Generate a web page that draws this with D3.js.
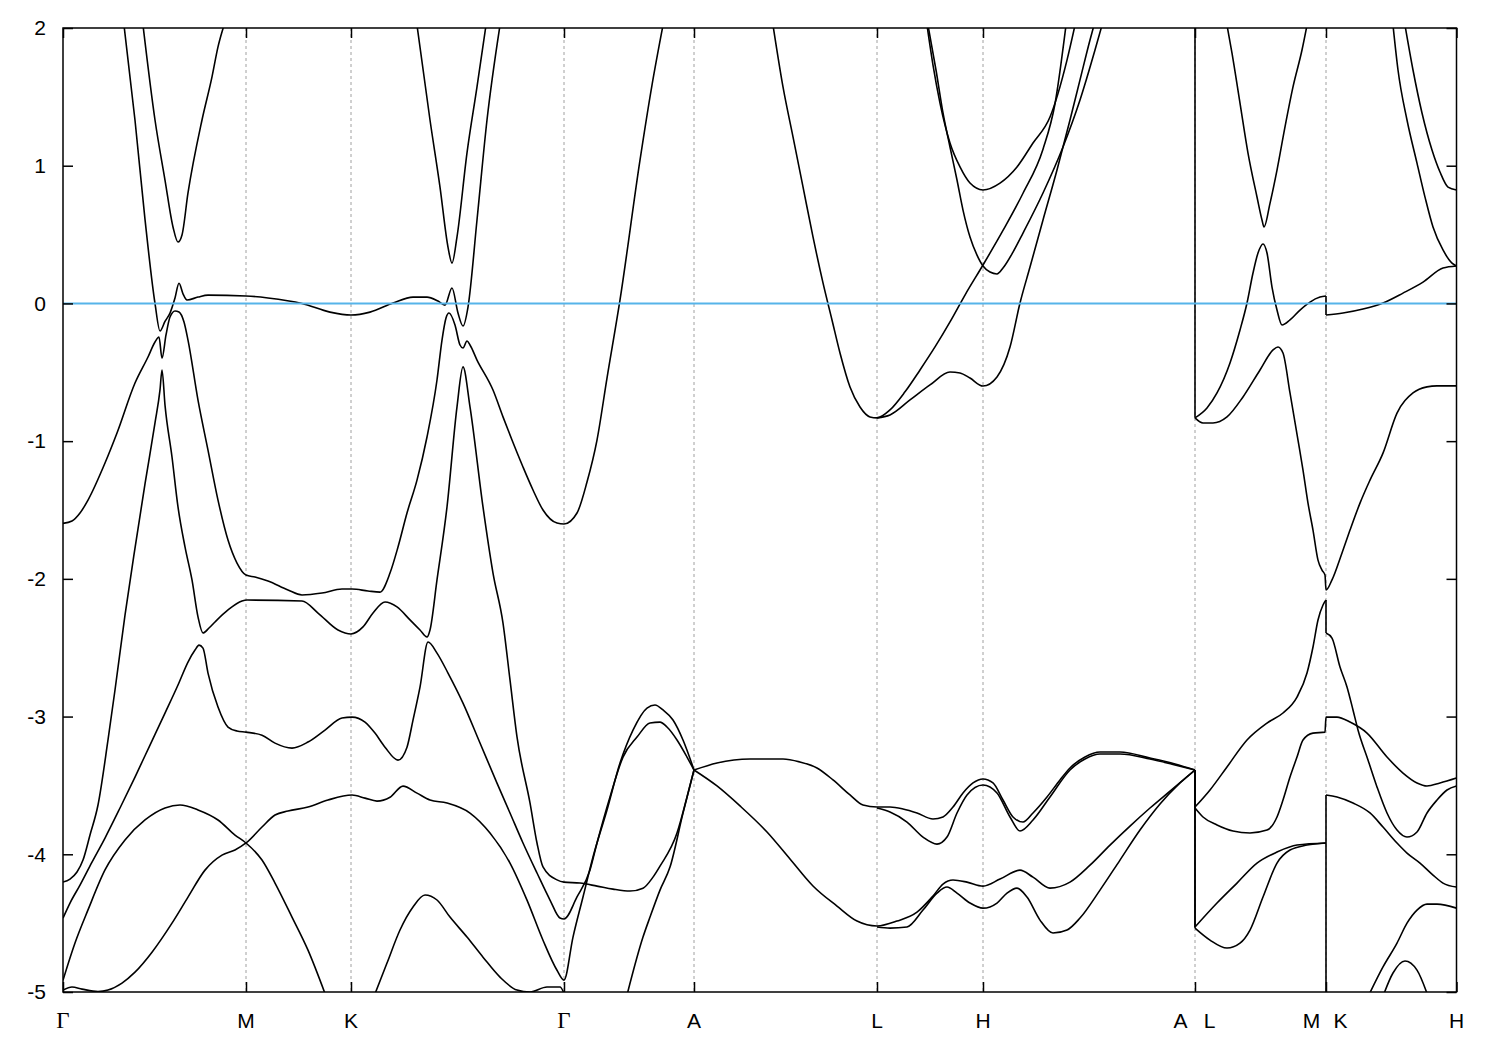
<!DOCTYPE html>
<html><head><meta charset="utf-8">
<script src="https://cdn.jsdelivr.net/npm/d3@7"></script>
<style>body{margin:0;background:#fff}</style>
</head><body>
<svg id="chart" width="1500" height="1050"></svg>
<script>
// k-path positions (arbitrary path units) and labels
const tickK = [0, 1.83, 2.88, 5.01, 6.31, 8.14, 9.20, 11.32, 12.63, 13.935];
const tickLabels = ["Γ", "M", "K", "Γ", "A", "L", "H", "A|L", "M|K", "H"];
const yTicks = [-5, -4, -3, -2, -1, 0, 1, 2];
const fermiLevel = 0;

// band curves: [k, E (eV)]
const band01 = [[0.61,2.02],[0.72,1.33],[0.82,0.61],[0.92,0.00],[0.97,-0.20],[1.02,-0.13],[1.07,-0.07],[1.12,0.04],[1.16,0.146],[1.20,0.07],[1.24,0.025],[1.35,0.046],[1.45,0.06],[1.83,0.054],[2.05,0.04],[2.39,0.00],[2.67,-0.063],[2.88,-0.084],[3.07,-0.063],[3.30,0.003],[3.50,0.046],[3.64,0.046],[3.75,0.017],[3.82,-0.012],[3.89,0.112],[3.95,-0.07],[4.00,-0.164],[4.05,-0.026],[4.14,0.606],[4.24,1.332],[4.37,2.02]];
const band02 = [[0.80,2.02],[0.92,1.332],[1.02,0.896],[1.10,0.555],[1.15,0.446],[1.19,0.497],[1.25,0.802],[1.39,1.332],[1.49,1.645],[1.55,1.863],[1.61,2.02]];
const band03 = [[3.54,2.02],[3.67,1.332],[3.77,0.845],[3.85,0.409],[3.89,0.293],[3.94,0.483],[4.04,1.093],[4.14,1.572],[4.23,2.02]];
const band04 = [[0,-1.597],[0.09,-1.58],[0.17,-1.522],[0.25,-1.428],[0.42,-1.159],[0.54,-0.941],[0.72,-0.578],[0.85,-0.389],[0.92,-0.28],[0.96,-0.244],[0.99,-0.397],[1.03,-0.229],[1.07,-0.099],[1.12,-0.055],[1.16,-0.062],[1.21,-0.135],[1.25,-0.266],[1.35,-0.702],[1.45,-1.065],[1.55,-1.428],[1.65,-1.718],[1.74,-1.885],[1.83,-1.972],[1.92,-1.987],[2.05,-2.016],[2.25,-2.081],[2.39,-2.117],[2.59,-2.103],[2.79,-2.074],[2.89,-2.074],[3.05,-2.088],[3.17,-2.096],[3.27,-1.958],[3.35,-1.769],[3.44,-1.522],[3.54,-1.283],[3.64,-0.97],[3.74,-0.556],[3.79,-0.266],[3.83,-0.106],[3.86,-0.07],[3.92,-0.157],[3.97,-0.302],[4.00,-0.324],[4.04,-0.273],[4.07,-0.302],[4.14,-0.411],[4.30,-0.629],[4.40,-0.824],[4.49,-0.992],[4.60,-1.188],[4.70,-1.355],[4.80,-1.50],[4.94,-1.595],[5.01,-1.602],[5.14,-1.522],[5.24,-1.297],[5.34,-0.992],[5.44,-0.542],[5.57,0.025],[5.77,1.041],[5.89,1.586],[6.00,2.02]];
const band05 = [[0,-4.202],[0.07,-4.18],[0.14,-4.129],[0.20,-4.042],[0.27,-3.86],[0.35,-3.642],[0.45,-3.17],[0.52,-2.807],[0.62,-2.263],[0.72,-1.776],[0.82,-1.311],[0.92,-0.868],[0.97,-0.628],[0.99,-0.483],[1.02,-0.738],[1.09,-1.115],[1.15,-1.478],[1.22,-1.768],[1.29,-2.008],[1.35,-2.276],[1.40,-2.393],[1.46,-2.357],[1.52,-2.313],[1.65,-2.226],[1.79,-2.161],[1.84,-2.154],[2.39,-2.161],[2.55,-2.248],[2.75,-2.371],[2.88,-2.40],[3.00,-2.349],[3.10,-2.248],[3.22,-2.168],[3.34,-2.204],[3.47,-2.298],[3.57,-2.371],[3.64,-2.422],[3.67,-2.371],[3.74,-2.008],[3.84,-1.478],[3.94,-0.751],[4.00,-0.461],[4.07,-0.751],[4.20,-1.478],[4.30,-1.958],[4.40,-2.321],[4.47,-2.734],[4.54,-3.148],[4.67,-3.627],[4.74,-3.918],[4.80,-4.092],[4.94,-4.186],[5.01,-4.202],[5.17,-4.209],[5.34,-4.231],[5.50,-4.253],[5.67,-4.267],[5.80,-4.246],[5.90,-4.166],[5.97,-4.086],[6.14,-3.846],[6.24,-3.584],[6.31,-3.388]];
const band06 = [[0,-4.463],[0.07,-4.354],[0.17,-4.224],[0.29,-4.057],[0.42,-3.882],[0.57,-3.664],[0.72,-3.439],[0.87,-3.207],[1.02,-2.975],[1.15,-2.771],[1.25,-2.604],[1.32,-2.517],[1.36,-2.481],[1.40,-2.503],[1.45,-2.684],[1.55,-2.931],[1.65,-3.076],[1.74,-3.105],[1.83,-3.113],[1.99,-3.135],[2.12,-3.193],[2.29,-3.229],[2.45,-3.185],[2.62,-3.098],[2.79,-3.011],[2.89,-3.004],[3.02,-3.04],[3.12,-3.12],[3.22,-3.222],[3.35,-3.316],[3.44,-3.222],[3.50,-3.026],[3.57,-2.786],[3.65,-2.459],[3.74,-2.539],[3.85,-2.684],[4.00,-2.902],[4.17,-3.192],[4.34,-3.483],[4.47,-3.70],[4.60,-3.918],[4.74,-4.136],[4.87,-4.332],[4.97,-4.463],[5.01,-4.47],[5.14,-4.31],[5.27,-4.114],[5.34,-3.918],[5.47,-3.584],[5.60,-3.294],[5.74,-3.149],[5.87,-3.047],[5.97,-3.04],[6.04,-3.076],[6.14,-3.17],[6.24,-3.294],[6.31,-3.388]];
const band07 = [[0,-4.914],[0.12,-4.644],[0.25,-4.404],[0.42,-4.114],[0.62,-3.896],[0.82,-3.751],[1.02,-3.664],[1.17,-3.642],[1.35,-3.678],[1.55,-3.751],[1.72,-3.86],[1.83,-3.918],[1.99,-4.042],[2.12,-4.209],[2.29,-4.456],[2.45,-4.696],[2.64,-5.05]];
const band08 = [[0,-4.986],[0.09,-4.964],[0.19,-4.979],[0.35,-4.997],[0.45,-4.986],[0.59,-4.935],[0.72,-4.856],[0.89,-4.711],[1.09,-4.50],[1.25,-4.311],[1.42,-4.115],[1.59,-4.006],[1.72,-3.969],[1.83,-3.918],[1.99,-3.802],[2.12,-3.715],[2.25,-3.686],[2.45,-3.657],[2.65,-3.606],[2.89,-3.57],[3.02,-3.592],[3.14,-3.614],[3.27,-3.586],[3.40,-3.505],[3.54,-3.556],[3.67,-3.606],[3.84,-3.628],[4.07,-3.701],[4.27,-3.846],[4.47,-4.064],[4.64,-4.333],[4.80,-4.624],[4.94,-4.842],[5.01,-4.914],[5.10,-4.601],[5.20,-4.31],[5.30,-4.02],[5.44,-3.679],[5.57,-3.338],[5.70,-3.098],[5.84,-2.938],[5.92,-2.916],[6.00,-2.952],[6.10,-3.025],[6.20,-3.17],[6.31,-3.388]];
const band09 = [[3.10,-5.05],[3.24,-4.79],[3.37,-4.55],[3.50,-4.383],[3.62,-4.296],[3.74,-4.332],[3.87,-4.456],[4.04,-4.601],[4.20,-4.747],[4.37,-4.892],[4.54,-4.986],[4.67,-5.00],[4.84,-4.964],[4.97,-4.964],[5.01,-5.01]];
const band10 = [[5.63,-5.05],[5.80,-4.601],[5.87,-4.456],[5.97,-4.26],[6.07,-4.093],[6.20,-3.701],[6.31,-3.388]];
const band11 = [[6.31,-3.388],[6.54,-3.337],[6.87,-3.308],[7.20,-3.308],[7.37,-3.33],[7.54,-3.373],[7.70,-3.46],[7.87,-3.569],[8.00,-3.642],[8.14,-3.657],[8.27,-3.657],[8.40,-3.671],[8.54,-3.70],[8.70,-3.744],[8.80,-3.729],[8.90,-3.657],[9.00,-3.555],[9.10,-3.482],[9.20,-3.453],[9.30,-3.482],[9.40,-3.606],[9.50,-3.729],[9.60,-3.766],[9.70,-3.70],[9.84,-3.584],[9.97,-3.46],[10.07,-3.373],[10.22,-3.293],[10.37,-3.257],[10.57,-3.257],[10.87,-3.301],[11.12,-3.344],[11.32,-3.388],[11.32,-3.657],[11.47,-3.533],[11.64,-3.366],[11.84,-3.17],[12.04,-3.047],[12.20,-2.974],[12.34,-2.858],[12.44,-2.684],[12.50,-2.495],[12.55,-2.299],[12.60,-2.19],[12.63,-2.154],[12.63,-2.393],[12.69,-2.43],[12.77,-2.64],[12.84,-2.785],[12.90,-2.952],[12.95,-3.097],[13.05,-3.315],[13.14,-3.511],[13.24,-3.70],[13.34,-3.824],[13.44,-3.875],[13.54,-3.838],[13.64,-3.70],[13.74,-3.606],[13.84,-3.533],[13.935,-3.504]];
const band12 = [[8.14,-3.664],[8.27,-3.693],[8.44,-3.766],[8.60,-3.875],[8.74,-3.926],[8.84,-3.875],[8.94,-3.70],[9.04,-3.569],[9.20,-3.497],[9.34,-3.555],[9.47,-3.729],[9.57,-3.831],[9.70,-3.751],[9.87,-3.584],[10.07,-3.388],[10.22,-3.308],[10.37,-3.272],[10.57,-3.272],[10.87,-3.308],[11.12,-3.351],[11.32,-3.388],[11.32,-3.664],[11.40,-3.729],[11.54,-3.787],[11.70,-3.831],[11.87,-3.845],[12.04,-3.824],[12.14,-3.729],[12.20,-3.606],[12.27,-3.439],[12.34,-3.294],[12.40,-3.17],[12.50,-3.12],[12.62,-3.113],[12.63,-3.004],[12.74,-3.004],[12.87,-3.04],[13.04,-3.12],[13.24,-3.294],[13.40,-3.41],[13.54,-3.482],[13.64,-3.504],[13.77,-3.482],[13.935,-3.446]];
const band13 = [[6.31,-3.388],[6.54,-3.504],[6.77,-3.649],[7.04,-3.838],[7.27,-4.034],[7.50,-4.23],[7.74,-4.376],[7.94,-4.485],[8.14,-4.521],[8.34,-4.485],[8.54,-4.42],[8.70,-4.303],[8.80,-4.216],[8.90,-4.187],[9.04,-4.202],[9.20,-4.231],[9.37,-4.18],[9.57,-4.115],[9.70,-4.166],[9.87,-4.246],[10.07,-4.202],[10.27,-4.079],[10.47,-3.933],[10.67,-3.795],[10.87,-3.664],[11.07,-3.541],[11.32,-3.388],[11.32,-4.528],[11.54,-4.354],[11.74,-4.209],[11.94,-4.064],[12.14,-3.984],[12.34,-3.933],[12.63,-3.918],[12.63,-3.57],[12.74,-3.584],[12.90,-3.628],[13.07,-3.70],[13.20,-3.802],[13.34,-3.918],[13.44,-3.991],[13.57,-4.064],[13.70,-4.151],[13.80,-4.209],[13.935,-4.238]];
const band14 = [[8.14,-4.528],[8.27,-4.536],[8.44,-4.528],[8.60,-4.405],[8.74,-4.282],[8.84,-4.238],[8.94,-4.282],[9.07,-4.354],[9.20,-4.391],[9.34,-4.354],[9.44,-4.282],[9.54,-4.246],[9.64,-4.311],[9.77,-4.478],[9.90,-4.572],[10.04,-4.55],[10.17,-4.463],[10.37,-4.26],[10.57,-4.042],[10.77,-3.824],[10.97,-3.635],[11.17,-3.482],[11.32,-3.388],[11.32,-4.536],[11.47,-4.623],[11.64,-4.681],[11.77,-4.645],[11.87,-4.55],[12.00,-4.31],[12.14,-4.064],[12.27,-3.969],[12.44,-3.933],[12.63,-3.918],[12.63,-5.2]];
const band15 = [[7.10,2.02],[7.20,1.572],[7.30,1.209],[7.40,0.846],[7.50,0.483],[7.60,0.149],[7.69,-0.12],[7.77,-0.36],[7.87,-0.607],[7.97,-0.752],[8.07,-0.824],[8.14,-0.831],[8.27,-0.773],[8.42,-0.642],[8.57,-0.483],[8.72,-0.316],[8.87,-0.134],[9.02,0.061],[9.20,0.279],[9.40,0.53],[9.60,0.80],[9.80,1.12],[9.92,1.45],[10.03,2.02]];
const band16 = [[8.14,-0.831],[8.27,-0.81],[8.47,-0.701],[8.67,-0.592],[8.87,-0.498],[8.97,-0.505],[9.07,-0.542],[9.20,-0.60],[9.34,-0.534],[9.47,-0.317],[9.57,0.003],[9.67,0.264],[9.80,0.606],[9.94,0.969],[10.07,1.332],[10.17,1.623],[10.27,1.913],[10.31,2.02]];
const band17 = [[8.64,2.02],[8.70,1.731],[8.77,1.455],[8.87,1.165],[8.97,0.991],[9.07,0.874],[9.20,0.824],[9.37,0.874],[9.54,0.991],[9.70,1.165],[9.87,1.354],[10.04,1.767],[10.12,2.02]];
const band18 = [[8.65,2.02],[8.73,1.695],[8.80,1.383],[8.87,1.136],[8.94,0.896],[9.00,0.678],[9.07,0.482],[9.14,0.351],[9.20,0.272],[9.27,0.228],[9.34,0.214],[9.40,0.257],[9.50,0.373],[9.60,0.511],[9.80,0.802],[10.00,1.136],[10.17,1.477],[10.32,1.84],[10.39,2.02]];
const band19 = [[11.32,2.2],[11.32,-0.831],[11.44,-0.759],[11.54,-0.65],[11.67,-0.432],[11.77,-0.193],[11.84,0.003],[11.90,0.221],[11.95,0.366],[12.00,0.432],[12.04,0.366],[12.09,0.119],[12.14,-0.048],[12.19,-0.157],[12.27,-0.12],[12.37,-0.048],[12.47,0.01],[12.57,0.046],[12.63,0.054],[12.63,-0.084],[12.80,-0.07],[13.00,-0.041],[13.20,0.003],[13.40,0.075],[13.60,0.155],[13.80,0.257],[13.935,0.272]];
const band20 = [[11.32,-0.831],[11.40,-0.868],[11.50,-0.868],[11.64,-0.824],[11.80,-0.679],[11.97,-0.483],[12.10,-0.338],[12.15,-0.316],[12.20,-0.36],[12.27,-0.65],[12.35,-0.992],[12.40,-1.21],[12.45,-1.45],[12.50,-1.646],[12.55,-1.864],[12.59,-1.936],[12.62,-1.972],[12.63,-2.081],[12.69,-2.008],[12.79,-1.812],[12.87,-1.646],[12.97,-1.45],[13.07,-1.283],[13.20,-1.087],[13.34,-0.796],[13.50,-0.65],[13.64,-0.606],[13.74,-0.599],[13.935,-0.599]];
const band21 = [[11.64,2.02],[11.69,1.818],[11.77,1.455],[11.85,1.092],[11.94,0.773],[11.99,0.606],[12.01,0.555],[12.07,0.727],[12.14,0.968],[12.22,1.282],[12.30,1.572],[12.39,1.84],[12.44,2.02]];
const band22 = [[13.30,2.02],[13.35,1.695],[13.44,1.332],[13.54,1.019],[13.62,0.772],[13.70,0.555],[13.80,0.388],[13.89,0.293],[13.935,0.272]];
const band23 = [[13.42,2.02],[13.50,1.695],[13.59,1.383],[13.69,1.114],[13.77,0.954],[13.85,0.845],[13.935,0.824]];
const band24 = [[13.04,-5.05],[13.20,-4.818],[13.34,-4.645],[13.44,-4.50],[13.54,-4.405],[13.64,-4.362],[13.74,-4.362],[13.935,-4.391]];
const band25 = [[13.19,-5.05],[13.30,-4.862],[13.42,-4.775],[13.54,-4.841],[13.66,-5.05]];

const bands = [band01,band02,band03,band04,band05,band06,band07,band08,band09,band10,band11,band12,band13,band14,band15,band16,band17,band18,band19,band20,band21,band22,band23,band24,band25];

const svg = d3.select("#chart");
const L = 63, R = 1456.5, T = 28, B = 992;
const x = d3.scaleLinear().domain([0, 13.935]).range([L, R]);
const y = d3.scaleLinear().domain([-5, 2]).range([B, T]);
const FONT = "'Liberation Sans', Arial, sans-serif";

svg.append("rect").attr("width",1500).attr("height",1050).attr("fill","#fff");
svg.append("defs").append("clipPath").attr("id","clip")
  .append("rect").attr("x",L).attr("y",T).attr("width",R-L).attr("height",B-T);

// vertical dashed grid at interior high-symmetry points
svg.append("g").selectAll("line").data(tickK.slice(1,-1)).join("line")
  .attr("x1",d=>x(d)).attr("x2",d=>x(d)).attr("y1",T).attr("y2",B)
  .attr("stroke","#a0a0a0").attr("stroke-width",1).attr("stroke-dasharray","3,3");

// bands
const smooth = d3.line().x(d=>x(d[0])).y(d=>y(d[1])).curve(d3.curveMonotoneX);
const straight = d3.line().x(d=>x(d[0])).y(d=>y(d[1]));
const gB = svg.append("g").attr("clip-path","url(#clip)")
  .attr("fill","none").attr("stroke","#000").attr("stroke-width",1.6).attr("stroke-linejoin","round");
bands.forEach(b=>{
  let piece=[b[0]];
  for(let i=1;i<b.length;i++){
    if(b[i][0]===b[i-1][0]){
      if(piece.length>1) gB.append("path").attr("d",smooth(piece));
      gB.append("path").attr("d",straight([b[i-1],b[i]]));
      piece=[b[i]];
    } else piece.push(b[i]);
  }
  if(piece.length>1) gB.append("path").attr("d",smooth(piece));
});

// Fermi level
svg.append("line").attr("x1",L).attr("x2",R).attr("y1",y(fermiLevel)).attr("y2",y(fermiLevel))
  .attr("stroke","#56b4e9").attr("stroke-width",2);

// axes (inward ticks)
function style(g){ g.select(".domain").remove(); g.selectAll(".tick line").attr("stroke","#000").attr("stroke-width",1.5); }
svg.append("g").attr("transform",`translate(${L},0)`)
  .call(d3.axisLeft(y).tickValues(yTicks).tickSizeInner(-10).tickSizeOuter(0).tickPadding(17).tickFormat(d=>String(d)))
  .call(style)
  .call(g=>g.selectAll("text").attr("font-size",21).attr("font-family",FONT).attr("fill","#000"));
svg.append("g").attr("transform",`translate(${R},0)`)
  .call(d3.axisRight(y).tickValues(yTicks).tickSizeInner(-10).tickSizeOuter(0).tickFormat(""))
  .call(style);
svg.append("g").attr("transform",`translate(0,${B})`)
  .call(d3.axisBottom(x).tickValues(tickK).tickSizeInner(-10).tickSizeOuter(0).tickFormat(""))
  .call(style);
svg.append("g").attr("transform",`translate(0,${T})`)
  .call(d3.axisTop(x).tickValues(tickK).tickSizeInner(-10).tickSizeOuter(0).tickFormat(""))
  .call(style);

// x labels
const gX = svg.append("g").attr("fill","#000").attr("text-anchor","middle");
tickK.forEach((k,i)=>{
  const parts = tickLabels[i].split("|");
  const offs = parts.length===2 ? [-14.5,14.5] : [0];
  parts.forEach((p,j)=>{
    gX.append("text").attr("x",x(k)+offs[j]).attr("y",1028)
      .attr("font-family", p==="Γ" ? "'Liberation Serif', 'Times New Roman', serif" : FONT)
      .attr("font-size", p==="Γ" ? 23 : 21)
      .text(p);
  });
});

// frame
svg.append("rect").attr("x",L).attr("y",T).attr("width",R-L).attr("height",B-T)
  .attr("fill","none").attr("stroke","#000").attr("stroke-width",1.5);
</script>
</body></html>
